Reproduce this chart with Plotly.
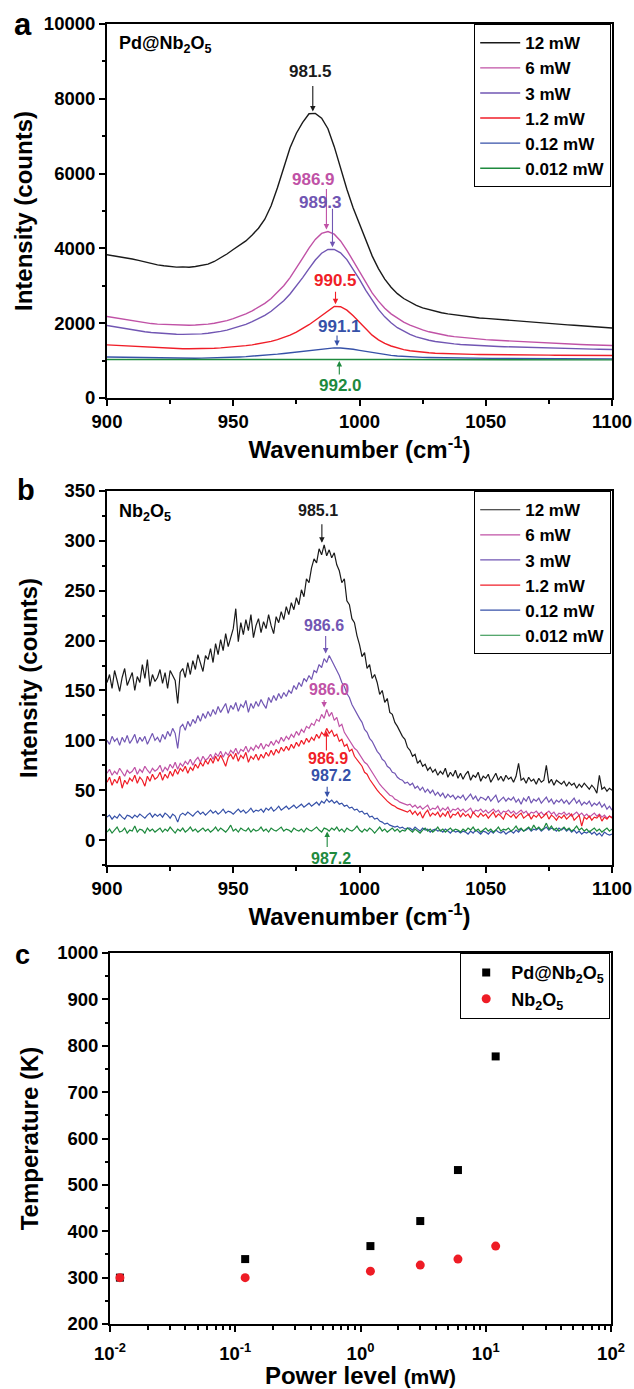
import numpy as np
import plotly.graph_objects as go

# ---------------- data ----------------
# panel a: Pd@Nb2O5 Raman spectra, 2.5 cm-1 sampling
wn_a = np.arange(900, 1100.1, 2.5)
pd_12 = [3830, 3805, 3770, 3755, 3715, 3680, 3635, 3600, 3560, 3535,
         3515, 3500, 3505, 3495, 3515, 3540, 3580, 3650, 3740, 3850,
         3970, 4080, 4200, 4360, 4540, 4780, 5140, 5620, 6170, 6690,
         7080, 7370, 7600, 7610, 7480, 7200, 6720, 6140, 5580, 5080,
         4650, 4200, 3800, 3460, 3180, 2960, 2790, 2660, 2560, 2475,
         2410, 2360, 2315, 2280, 2250, 2225, 2200, 2180, 2165, 2140,
         2130, 2115, 2100, 2090, 2075, 2060, 2050, 2030, 2020, 2005,
         1995, 1985, 1970, 1955, 1945, 1935, 1920, 1905, 1890, 1880, 1870]
pd_6 = [2180, 2150, 2120, 2090, 2060, 2030, 2010, 1990, 1975, 1965,
        1955, 1950, 1945, 1945, 1950, 1960, 1975, 2000, 2030, 2070,
        2120, 2180, 2250, 2330, 2420, 2530, 2660, 2820, 3000, 3220,
        3470, 3740, 4010, 4240, 4400, 4450, 4380, 4200, 3950, 3660,
        3360, 3070, 2810, 2590, 2400, 2250, 2130, 2030, 1950, 1880,
        1820, 1770, 1730, 1695, 1665, 1640, 1620, 1600, 1585, 1570,
        1560, 1550, 1540, 1530, 1520, 1510, 1500, 1490, 1480, 1470,
        1462, 1455, 1448, 1442, 1436, 1430, 1424, 1418, 1413, 1408, 1405]
pd_3 = [1940, 1910, 1880, 1850, 1820, 1790, 1770, 1750, 1735, 1720,
        1710, 1705, 1700, 1700, 1705, 1715, 1730, 1750, 1780, 1815,
        1860, 1910, 1970, 2040, 2120, 2210, 2320, 2450, 2600, 2780,
        2990, 3220, 3460, 3690, 3870, 3970, 3975, 3880, 3700, 3450,
        3170, 2880, 2610, 2370, 2170, 2010, 1880, 1780, 1700, 1635,
        1585, 1545, 1510, 1485, 1465, 1447, 1432, 1420, 1410, 1400,
        1392, 1385, 1378, 1372, 1366, 1360, 1355, 1350, 1345, 1340,
        1336, 1332, 1328, 1324, 1320, 1316, 1312, 1308, 1304, 1300, 1297]
pd_1_2 = [1420, 1410, 1400, 1390, 1380, 1370, 1360, 1350, 1342, 1335,
          1328, 1322, 1318, 1315, 1315, 1318, 1322, 1330, 1340, 1352,
          1366, 1382, 1400, 1422, 1448, 1478, 1515, 1560, 1615, 1680,
          1760, 1850, 1960, 2080, 2210, 2340, 2450, 2440, 2350, 2200,
          2030, 1840, 1680, 1555, 1460, 1390, 1335, 1295, 1265, 1242,
          1225, 1210, 1198, 1190, 1183, 1178, 1173, 1169, 1166, 1163,
          1160, 1158, 1156, 1155, 1153, 1152, 1150, 1149, 1148, 1147,
          1146, 1145, 1144, 1143, 1142, 1141, 1140, 1139, 1138, 1137, 1136]
pd_0_12 = [1095, 1092, 1088, 1085, 1080, 1076, 1072, 1068, 1065, 1062,
           1060, 1060, 1060, 1061, 1063, 1065, 1068, 1072, 1077, 1083,
           1090, 1098, 1107, 1117, 1128, 1140, 1155, 1172, 1190, 1210,
           1232, 1255, 1278, 1300, 1318, 1332, 1340, 1338, 1325, 1302,
           1275, 1245, 1215, 1185, 1160, 1140, 1123, 1110, 1100, 1092,
           1086, 1081, 1077, 1074, 1071, 1069, 1067, 1065, 1063, 1062,
           1060, 1059, 1058, 1057, 1056, 1055, 1054, 1053, 1052, 1051,
           1050, 1049, 1049, 1048, 1048, 1047, 1047, 1046, 1046, 1045, 1045]
pd_0_012 = [1030, 1031, 1029, 1030, 1028, 1029, 1030, 1028, 1029, 1027,
            1028, 1029, 1027, 1028, 1029, 1027, 1028, 1029, 1028, 1029,
            1030, 1029, 1031, 1030, 1032, 1031, 1033, 1034, 1035, 1036,
            1037, 1038, 1039, 1040, 1041, 1042, 1042, 1042, 1041, 1039,
            1037, 1035, 1033, 1031, 1030, 1029, 1028, 1027, 1027, 1026,
            1026, 1025, 1026, 1025, 1024, 1025, 1024, 1025, 1024, 1023,
            1024, 1023, 1024, 1023, 1022, 1023, 1022, 1023, 1022, 1021,
            1022, 1021, 1022, 1021, 1020, 1021, 1020, 1021, 1020, 1019, 1020]

# panel b: Nb2O5 Raman spectra, 1 cm-1 sampling
wn_b = np.arange(900, 1101, 1)
nb_12 = [158, 166, 152, 170, 160, 149, 163, 172, 155, 161,
         168, 150, 164, 158, 176, 162, 181, 154, 166, 159,
         163, 171, 157, 168, 152, 170, 165, 160, 137, 168,
         172, 163, 178, 166, 180, 171, 186, 176, 169, 185,
         181, 192, 178, 197, 186, 201, 190, 207, 194, 203,
         212, 232, 199, 218, 206, 221, 210, 226, 203, 215,
         222, 208, 219, 212, 226, 215, 207, 224, 218, 229,
         221, 234, 226, 238, 231, 243, 236, 251, 244, 262,
         258, 273, 282, 278, 292, 286, 296, 285, 291, 283,
         288, 276, 270, 258, 262, 240, 236, 222, 218, 205,
         196, 184, 188, 172, 176, 162, 166, 158, 146, 150,
         138, 142, 128, 126, 118, 114, 109, 104, 101, 93,
         90, 84, 86, 77, 80, 74, 76, 70, 73, 68,
         71, 65, 69, 66, 72, 63, 68, 64, 70, 62,
         67, 61, 66, 69, 60, 65, 63, 68, 59, 64,
         62, 66, 58, 63, 67, 60, 64, 59, 65, 61,
         63, 58, 64, 77, 60, 62, 57, 63, 59, 61,
         56, 62, 58, 60, 75, 57, 61, 55, 60, 58,
         56, 59, 54, 58, 55, 57, 52, 56, 53, 57,
         54, 51, 55, 52, 47, 65, 51, 53, 49, 52,
         50]
nb_6 = [67, 71, 65, 69, 66, 72, 68, 64, 70, 67,
        69, 73, 66, 71, 68, 74, 70, 67, 72, 69,
        71, 75, 68, 73, 70, 76, 72, 78, 71, 77,
        74, 79, 76, 81, 75, 80, 83, 78, 84, 80,
        82, 86, 81, 87, 84, 89, 83, 88, 85, 90,
        87, 92, 86, 91, 89, 94, 88, 93, 90, 95,
        92, 97, 91, 96, 94, 99, 95, 100, 97, 103,
        99, 104, 101, 106, 103, 109, 105, 111, 108, 114,
        112, 117, 115, 121, 119, 126, 122, 131, 124, 128,
        120, 123, 114, 116, 108, 104, 100, 97, 92, 90,
        86, 83, 78, 76, 72, 67, 64, 59, 56, 53,
        50, 48, 45, 44, 41, 40, 38, 37, 36, 35,
        36, 33, 35, 32, 34, 31, 33, 35, 30, 32,
        31, 34, 29, 32, 30, 33, 28, 31, 30, 32,
        29, 31, 28, 30, 32, 27, 30, 29, 31, 28,
        30, 27, 29, 31, 28, 30, 26, 29, 28, 30,
        27, 29, 26, 28, 30, 27, 29, 25, 28, 27,
        29, 26, 28, 25, 27, 29, 26, 28, 24, 27,
        26, 28, 25, 27, 24, 26, 28, 25, 27, 24,
        26, 23, 25, 27, 24, 26, 23, 25, 22, 24,
        23]
nb_3 = [100, 96, 104, 99, 102, 95, 103, 98, 105, 97,
        101, 106, 97, 103, 99, 104, 96, 102, 107, 100,
        103, 98, 106, 101, 109, 104, 112, 107, 92, 113,
        116, 110, 119, 114, 121, 117, 125, 119, 127, 122,
        129, 124, 131, 126, 134, 128, 132, 137, 127, 135,
        131, 138, 129, 136, 133, 140, 128, 137, 132, 139,
        134, 141, 136, 132, 143, 138, 145, 140, 147, 142,
        148, 144, 150, 147, 155, 151, 158, 154, 162, 159,
        165, 161, 170, 168, 176, 173, 182, 178, 185, 180,
        176, 170, 165, 158, 154, 147, 143, 136, 131, 127,
        122, 118, 111, 108, 102, 99, 94, 89, 86, 81,
        79, 74, 72, 68, 67, 63, 61, 60, 57, 58,
        55, 57, 52, 54, 50, 53, 48, 51, 47, 50,
        45, 48, 44, 47, 42, 46, 43, 45, 41, 44,
        42, 45, 40, 43, 46, 41, 44, 39, 43, 42,
        40, 44, 39, 42, 45, 38, 41, 43, 39, 42,
        40, 43, 38, 41, 36, 42, 39, 44, 37, 41,
        39, 42, 37, 40, 43, 38, 41, 36, 40, 38,
        41, 37, 40, 36, 39, 42, 37, 40, 35, 38,
        36, 39, 34, 37, 35, 38, 33, 36, 31, 34,
        30]
nb_1_2 = [58, 63, 55, 61, 57, 64, 52, 60, 56, 62,
          59, 65, 57, 63, 60, 54, 64, 59, 66, 61,
          63, 68, 60, 66, 62, 69, 64, 71, 66, 72,
          69, 74, 67, 73, 70, 76, 72, 78, 74, 80,
          76, 82, 77, 84, 79, 85, 80, 74, 83, 86,
          81, 87, 79, 85, 82, 88, 78, 84, 81, 86,
          80, 86, 82, 88, 84, 90, 85, 91, 87, 93,
          89, 94, 90, 96, 92, 98, 94, 100, 96, 102,
          98, 103, 100, 106, 102, 108, 105, 112, 107, 110,
          104, 106, 99, 101, 94, 96, 89, 91, 84, 81,
          77, 74, 68, 66, 61, 57, 54, 50, 47, 44,
          42, 39, 37, 35, 34, 32, 31, 30, 29, 28,
          30, 26, 29, 25, 28, 22, 27, 30, 24, 27,
          25, 28, 23, 27, 24, 29, 22, 26, 25, 28,
          23, 27, 24, 26, 22, 28, 25, 23, 27, 24,
          26, 22, 25, 28, 23, 26, 24, 21, 27, 25,
          23, 26, 22, 25, 27, 22, 24, 26, 21, 25,
          23, 26, 22, 24, 27, 21, 25, 23, 20, 24,
          22, 25, 21, 24, 26, 20, 23, 25, 14, 23,
          21, 24, 20, 23, 22, 25, 19, 23, 21, 24,
          22]
nb_0_12 = [23, 25, 21, 24, 22, 26, 23, 21, 25, 24,
           22, 25, 23, 26, 24, 22, 25, 27, 23, 26,
           24, 26, 23, 27, 25, 22, 26, 24, 18, 25,
           27, 25, 28, 26, 24, 27, 29, 26, 28, 25,
           28, 30, 27, 29, 26, 28, 31, 27, 29, 28,
           26, 29, 31, 28, 30, 27, 29, 32, 28, 30,
           29, 31, 28, 32, 30, 33, 29, 31, 34, 30,
           32, 34, 31, 33, 35, 32, 34, 36, 33, 35,
           37, 34, 36, 38, 35, 39, 37, 41, 38, 40,
           37, 39, 36, 37, 34, 35, 32, 33, 30, 31,
           28, 29, 26, 27, 23, 24, 21, 22, 19, 18,
           16, 17, 15, 14, 13, 14, 12, 13, 11, 12,
           12, 10, 13, 11, 9, 12, 10, 11, 8, 10,
           11, 9, 10, 8, 11, 9, 7, 10, 8, 9,
           7, 9, 8, 6, 9, 7, 10, 8, 6, 9,
           8, 6, 9, 7, 10, 8, 7, 9, 6, 8,
           9, 7, 10, 8, 11, 9, 10, 12, 9, 11,
           10, 12, 9, 11, 13, 10, 12, 11, 9, 12,
           10, 12, 9, 11, 8, 10, 7, 9, 6, 8,
           7, 9, 6, 8, 5, 7, 4, 8, 6, 5,
           6]
nb_0_012 = [8, 11, 7, 10, 13, 8, 9, 12, 7, 10,
            9, 14, 8, 11, 10, 7, 12, 9, 11, 8,
            10, 12, 8, 11, 9, 13, 10, 7, 11, 9,
            12, 8, 10, 13, 9, 11, 8, 10, 12, 9,
            11, 8, 10, 13, 9, 12, 10, 8, 11, 15,
            9, 11, 8, 12, 10, 9, 12, 8, 11, 9,
            10, 13, 9, 11, 8, 12, 10, 9, 11, 13,
            9, 11, 10, 8, 12, 10, 9, 11, 8, 12,
            10, 9, 11, 13, 10, 8, 12, 11, 9, 12,
            10, 13, 9, 11, 8, 12, 10, 9, 11, 14,
            10, 8, 11, 9, 12, 10, 7, 10, 13, 9,
            11, 8, 10, 12, 9, 11, 8, 10, 9, 12,
            10, 8, 11, 9, 7, 10, 12, 9, 11, 8,
            10, 13, 9, 11, 8, 10, 12, 9, 11, 10,
            8, 11, 9, 12, 10, 13, 9, 11, 8, 10,
            12, 9, 11, 8, 10, 13, 9, 11, 10, 12,
            9, 11, 14, 10, 12, 9, 11, 13, 10, 15,
            11, 13, 10, 12, 17, 11, 14, 10, 12, 9,
            11, 13, 10, 12, 9, 11, 14, 10, 12, 9,
            11, 8, 10, 12, 9, 11, 8, 10, 12, 9,
            11]

# panel c: temperature vs laser power
power_mw = [0.012, 0.12, 1.2, 3, 6, 12]
temp_pd = [300, 340, 368, 422, 532, 777]
temp_nb = [300, 300, 314, 327, 340, 368]

power_labels = ["12 mW", "6 mW", "3 mW", "1.2 mW", "0.12 mW", "0.012 mW"]
# fitted band positions, in the same order as power_labels
peaks_a = [981.5, 986.9, 989.3, 990.5, 991.1, 992.0]
peaks_b = [985.1, 986.0, 986.6, 986.9, 987.2, 987.2]
colors = ["#1a1a1a", "#c052a6", "#7156b3", "#f01e28", "#3651a8", "#1e8a3e"]

# ---------------- layout helpers ----------------
W, H = 634, 1389
FONT = "Liberation Sans, Arial, sans-serif"


def fx(p):
    return p / W


def fy(p):
    return 1 - p / H


# plot-area boxes in pixels: (left, right, top, bottom)
box_a = (107, 612, 24, 398)
box_b = (107, 612, 491, 865)
box_c = (110, 611, 953, 1324)
range_a = (0, 10000)
range_b = (-25, 350)

fig = go.Figure()

series_a = [pd_12, pd_6, pd_3, pd_1_2, pd_0_12, pd_0_012]
series_b = [nb_12, nb_6, nb_3, nb_1_2, nb_0_12, nb_0_012]

for i, (ys, name) in enumerate(zip(series_a, power_labels)):
    fig.add_trace(go.Scatter(x=wn_a, y=ys, mode="lines", name=name,
                             line=dict(color=colors[i], width=1.4),
                             xaxis="x", yaxis="y", legend="legend"))
for i, (ys, name) in enumerate(zip(series_b, power_labels)):
    fig.add_trace(go.Scatter(x=wn_b, y=ys, mode="lines", name=name,
                             line=dict(color=colors[i], width=1.2),
                             xaxis="x2", yaxis="y2", legend="legend2"))

fig.add_trace(go.Scatter(x=power_mw, y=temp_pd, mode="markers",
                         name="Pd@Nb<sub>2</sub>O<sub>5</sub>",
                         marker=dict(symbol="square", size=8, color="black"),
                         xaxis="x3", yaxis="y3", legend="legend3"))
fig.add_trace(go.Scatter(x=power_mw, y=temp_nb, mode="markers",
                         name="Nb<sub>2</sub>O<sub>5</sub>",
                         marker=dict(symbol="circle", size=9, color="#ee1c25"),
                         xaxis="x3", yaxis="y3", legend="legend3"))

axis_common = dict(showline=True, linecolor="black", linewidth=2, mirror=True,
                   ticks="outside", ticklen=6, tickwidth=1.5, tickcolor="black",
                   showgrid=False, zeroline=False, automargin=False,
                   tickfont=dict(family=FONT, size=18.5, color="black", weight="bold"))
title_font = dict(family=FONT, size=24, color="black", weight="bold")
minor_common = dict(ticks="outside", ticklen=3.5, tickwidth=1.5, tickcolor="black",
                    showgrid=False)


def xdom(b):
    return [fx(b[0]), fx(b[1])]


def ydom(b):
    return [fy(b[3]), fy(b[2])]


log_minor = [m * 10.0 ** k for k in range(-2, 2) for m in range(2, 10)]

fig.update_layout(
    template="none",
    width=W, height=H,
    margin=dict(l=0, r=0, t=0, b=0, pad=0, autoexpand=False),
    paper_bgcolor="white", plot_bgcolor="white",
    font=dict(family=FONT, color="black", weight="bold"),
    xaxis=dict(domain=xdom(box_a), anchor="y", range=[900, 1100], tick0=900, dtick=50,
               minor=dict(dtick=25, **minor_common),
               title=dict(text="Wavenumber (cm<sup>-1</sup>)", font=title_font, standoff=10),
               **axis_common),
    yaxis=dict(domain=ydom(box_a), anchor="x", range=list(range_a), tick0=0, dtick=2000,
               tickformat="d",
               minor=dict(dtick=1000, **minor_common),
               title=dict(text="Intensity (counts)", font=title_font, standoff=4),
               **axis_common),
    xaxis2=dict(domain=xdom(box_b), anchor="y2", range=[900, 1100], tick0=900, dtick=50,
                minor=dict(dtick=25, **minor_common),
                title=dict(text="Wavenumber (cm<sup>-1</sup>)", font=title_font, standoff=10),
                **axis_common),
    yaxis2=dict(domain=ydom(box_b), anchor="x2", range=list(range_b), tick0=0, dtick=50,
                minor=dict(dtick=25, **minor_common),
                title=dict(text="Intensity (counts)", font=title_font, standoff=20),
                **axis_common),
    xaxis3=dict(domain=xdom(box_c), anchor="y3", type="log", range=[-2, 2],
                tickvals=[0.01, 0.1, 1, 10, 100],
                ticktext=["10<sup>-2</sup>", "10<sup>-1</sup>", "10<sup>0</sup>",
                          "10<sup>1</sup>", "10<sup>2</sup>"],
                ticklabelstandoff=6,
                minor=dict(tickmode="array", tickvals=log_minor, **minor_common),
                title=dict(text="Power level <span style='font-size:21px'>(mW)</span>",
                           font=title_font, standoff=6),
                **axis_common),
    yaxis3=dict(domain=ydom(box_c), anchor="x3", range=[200, 1000], tick0=200, dtick=100,
                minor=dict(dtick=50, **minor_common),
                title=dict(text="Temperature (K)", font=title_font, standoff=12),
                **axis_common),
    showlegend=True,
)

legend_common = dict(bordercolor="black", borderwidth=1.2, bgcolor="white",
                     xanchor="right", yanchor="top", itemwidth=40,
                     entrywidthmode="pixels")
spectra_font = dict(family=FONT, size=17, color="black", weight="bold")
fig.update_layout(
    legend=dict(x=fx(611), y=fy(24), entrywidth=100, font=spectra_font,
                **legend_common),
    legend2=dict(x=fx(611), y=fy(491), entrywidth=100, font=spectra_font,
                 **legend_common),
    legend3=dict(x=fx(610), y=fy(953), entrywidth=102,
                 font=dict(family=FONT, size=18, color="black", weight="bold"),
                 **legend_common),
)

annotations = []

# panel letters and sample names
for letter, (px_x, px_y, size) in {"a": (23, 25, 31), "b": (26, 490, 29),
                                   "c": (22, 955, 27)}.items():
    annotations.append(dict(x=fx(px_x), y=fy(px_y), xref="paper", yref="paper",
                            text=letter, showarrow=False, xanchor="center",
                            yanchor="middle",
                            font=dict(family=FONT, size=size, color="black",
                                      weight="bold")))
annotations.append(dict(x=fx(117), y=fy(45), xref="paper", yref="paper",
                        text="Pd@Nb<sub>2</sub>O<sub>5</sub>", showarrow=False,
                        xanchor="left", yanchor="middle",
                        font=dict(family=FONT, size=18, color="black", weight="bold")))
annotations.append(dict(x=fx(117), y=fy(512), xref="paper", yref="paper",
                        text="Nb<sub>2</sub>O<sub>5</sub>", showarrow=False,
                        xanchor="left", yanchor="middle",
                        font=dict(family=FONT, size=18, color="black", weight="bold")))

# peak markers: (text dx, text dy, arrow length, arrow points down?) in pixels
marks_a = [(-2, 40, 27, True), (-13, 50, 42, True), (-12, 45, 40, True),
           (0, 24, 14, True), (2, 19, 12, True), (1, -24, 15, False)]
marks_b = [(-4, 32, 20, True), (5, 18, 9, True), (-2, 28, 19, True),
           (2, -27, 21, False), (4, 22, 12, True), (4, -27, 17, False)]


def add_peak_marks(wn, series, peaks, marks, box, yrange, xr, yr, window, size):
    units_per_px = (yrange[1] - yrange[0]) / (box[3] - box[2])
    wn = np.asarray(wn)
    for i, (ys, pk, (dx, dy, length, down)) in enumerate(zip(series, peaks, marks)):
        ys = np.asarray(ys, dtype=float)
        if down:
            near = ys[np.abs(wn - pk) <= window]
            base = max(near.max(), np.interp(pk, wn, ys))
            tip = base + 2 * units_per_px
        else:
            tip = np.interp(pk, wn, ys) - 2 * units_per_px
        annotations.append(dict(x=pk, y=tip, xref=xr, yref=yr, text="",
                                showarrow=True, ax=0, ay=(-length if down else length),
                                arrowhead=2, arrowsize=1, arrowwidth=1.1,
                                arrowcolor=colors[i], standoff=0, startstandoff=0))
        annotations.append(dict(x=pk, y=tip, xref=xr, yref=yr, text=f"{pk:.1f}",
                                showarrow=False, xshift=dx, yshift=dy,
                                font=dict(family=FONT, size=size, color=colors[i],
                                          weight="bold")))


add_peak_marks(wn_a, series_a, peaks_a, marks_a, box_a, range_a, "x", "y", 1.3, 17)
add_peak_marks(wn_b, series_b, peaks_b, marks_b, box_b, range_b, "x2", "y2", 1.5, 16)

fig.update_layout(annotations=annotations)

fig.write_html("out.html")
